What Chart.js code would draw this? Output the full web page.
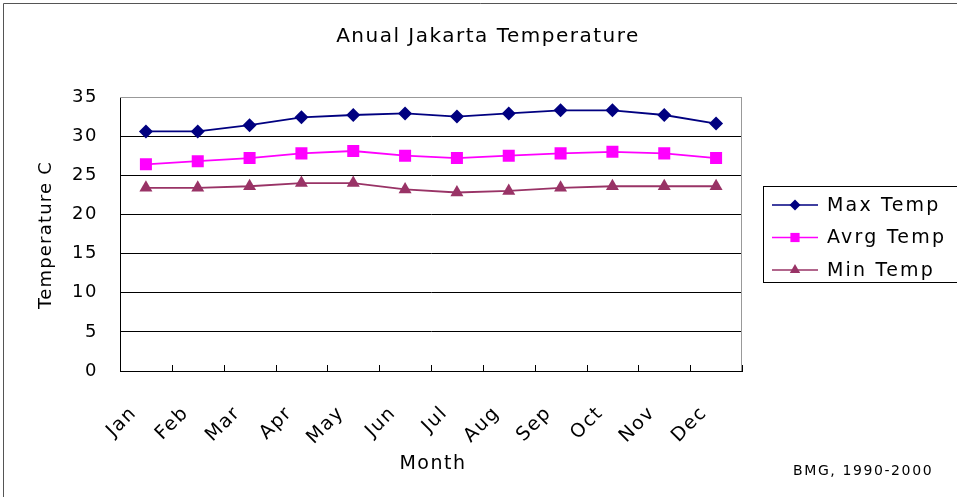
<!DOCTYPE html>
<html>
<head>
<meta charset="utf-8">
<script src="https://cdn.jsdelivr.net/npm/chart.js@4"></script>
<style>
  html, body { margin: 0; padding: 0; background: #fff; }
</style>
</head>
<body>
<canvas id="chart" width="957" height="497"></canvas>
<script>
const months = ['Jan', 'Feb', 'Mar', 'Apr', 'May', 'Jun', 'Jul', 'Aug', 'Sep', 'Oct', 'Nov', 'Dec'];
const maxTemp = [30.6, 30.6, 31.4, 32.4, 32.7, 32.9, 32.5, 32.9, 33.3, 33.3, 32.7, 31.6];
const avgTemp = [26.4, 26.8, 27.2, 27.8, 28.1, 27.5, 27.2, 27.5, 27.8, 28.0, 27.8, 27.2];
const minTemp = [23.4, 23.4, 23.6, 24.0, 24.0, 23.2, 22.8, 23.0, 23.4, 23.6, 23.6, 23.6];
const yTicks = [0, 5, 10, 15, 20, 25, 30, 35];

const FONT = 'DejaVu Sans';

// wider letter spacing for the axis tick labels
const spacing = {
  id: 'spacing',
  beforeDraw(chart) { chart.ctx.letterSpacing = '1.5px'; },
  afterDraw(chart) { chart.ctx.letterSpacing = '0px'; }
};

function text(ctx, str, x, y, size, sp, align) {
  ctx.font = size + 'px ' + FONT;
  ctx.letterSpacing = sp + 'px';
  ctx.textAlign = align || 'center';
  ctx.fillText(str, x, y);
}

// frame, plot border, inner x ticks, titles and boxed legend
const extras = {
  id: 'extras',
  afterDraw(chart) {
    const ctx = chart.ctx;
    const a = chart.chartArea;
    const xs = chart.scales.x;
    ctx.save();

    ctx.strokeStyle = '#555';
    ctx.lineWidth = 1;
    ctx.beginPath();
    ctx.moveTo(3.5, 497);
    ctx.lineTo(3.5, 3.5);
    ctx.lineTo(957, 3.5);
    ctx.stroke();

    // gray top/right border of plot
    ctx.strokeStyle = '#999';
    ctx.beginPath();
    ctx.moveTo(a.left, a.top + 0.5);
    ctx.lineTo(a.right - 0.5, a.top + 0.5);
    ctx.lineTo(a.right - 0.5, a.bottom);
    ctx.stroke();

    // category ticks pointing up into the plot
    ctx.strokeStyle = '#000';
    for (let i = 0; i <= months.length; i++) {
      const x = Math.round(xs.getPixelForValue(i - 0.5)) + 0.5;
      ctx.beginPath();
      ctx.moveTo(x, a.bottom);
      ctx.lineTo(x, a.bottom - 6);
      ctx.stroke();
    }

    ctx.fillStyle = '#000';
    ctx.textBaseline = 'middle';
    text(ctx, 'Anual Jakarta Temperature', 488, 37, 20, 1.5);
    text(ctx, 'Month', 433, 464, 19, 1.5);
    text(ctx, 'BMG, 1990-2000', 793, 471, 14, 1.6, 'left');

    ctx.save();
    ctx.translate(46, 235);
    ctx.rotate(-Math.PI / 2);
    text(ctx, 'Temperature C', 0, 0, 18, 1.2);
    ctx.restore();

    // legend
    ctx.strokeStyle = '#000';
    ctx.lineWidth = 1;
    ctx.strokeRect(763.5, 186.5, 200, 96);
    chart.data.datasets.forEach((ds, i) => {
      const y = 205 + i * 32.5;
      ctx.strokeStyle = ds.borderColor;
      ctx.lineWidth = 1.5;
      ctx.beginPath();
      ctx.moveTo(772, y);
      ctx.lineTo(818, y);
      ctx.stroke();
      ctx.fillStyle = ds.backgroundColor;
      Chart.helpers.drawPoint(ctx, { pointStyle: ds.pointStyle, radius: ds.legendRadius, rotation: 0, borderWidth: 0 }, 795, y);
      ctx.fillStyle = '#000';
      text(ctx, ds.label, 827, y + 1, 19, 2.2, 'left');
    });
    ctx.restore();
  }
};

const ctx = document.getElementById('chart').getContext('2d');
new Chart(ctx, {
  type: 'line',
  data: {
    labels: months,
    datasets: [
      { label: 'Max Temp', data: maxTemp, borderColor: '#000080', backgroundColor: '#000080',
        pointStyle: 'rectRot', pointRadius: 7, legendRadius: 5.5 },
      { label: 'Avrg Temp', data: avgTemp, borderColor: '#ff00ff', backgroundColor: '#ff00ff',
        pointStyle: 'rect', pointRadius: 8.5, legendRadius: 6.5 },
      { label: 'Min Temp', data: minTemp, borderColor: '#993366', backgroundColor: '#993366',
        pointStyle: 'triangle', pointRadius: 7.5, legendRadius: 6 }
    ]
  },
  options: {
    responsive: false,
    animation: false,
    layout: { padding: { top: 97, right: 215, left: 0, bottom: 0 } },
    elements: {
      line: { borderWidth: 1.8, tension: 0 },
      point: { borderWidth: 0 }
    },
    plugins: {
      legend: { display: false },
      title: { display: false },
      tooltip: { enabled: false }
    },
    scales: {
      x: {
        offset: true,
        afterFit(scale) { scale.height = 126; },
        grid: { display: false },
        border: { color: '#000' },
        ticks: {
          color: '#000', font: { family: FONT, size: 19 },
          maxRotation: 45, minRotation: 45, padding: 23, labelOffset: -12, autoSkip: false
        }
      },
      y: {
        min: 0, max: 35,
        afterFit(scale) { scale.width = 120; },
        afterBuildTicks(scale) { scale.ticks = yTicks.map(v => ({ value: v })); },
        grid: {
          color: c => (c.tick && c.tick.value === 35 ? '#999' : '#000'),
          drawTicks: false
        },
        border: { color: '#000' },
        ticks: { color: '#000', font: { family: FONT, size: 18 }, padding: 22 }
      }
    }
  },
  plugins: [spacing, extras]
});
</script>
</body>
</html>
